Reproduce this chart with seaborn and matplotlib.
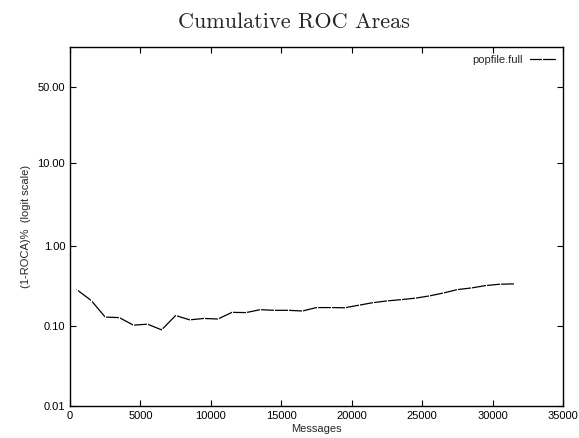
import numpy as np
import pandas as pd
import matplotlib
matplotlib.use("Agg")
import matplotlib.pyplot as plt
import seaborn as sns
from matplotlib.ticker import FuncFormatter, FixedLocator, NullLocator

# data (percent values)
messages = [500, 1500, 2500, 3500, 4500, 5500, 6500, 7500, 8500, 9500,
            10500, 11500, 12500, 13500, 14500, 15500, 16500, 17500, 18500, 19500,
            20500, 21500, 22500, 23500, 24500, 25500, 26500, 27500, 28500, 29500,
            30500, 31500]
roca_pct = [0.285, 0.21, 0.13, 0.128, 0.103, 0.106, 0.09, 0.136, 0.12, 0.125,
            0.123, 0.149, 0.148, 0.161, 0.158, 0.158, 0.155, 0.171, 0.171, 0.17,
            0.183, 0.197, 0.207, 0.215, 0.224, 0.239, 0.26, 0.287, 0.301, 0.322,
            0.335, 0.338]
series_name = "popfile.full"
ytick_pct = [0.01, 0.10, 1.00, 10.00, 50.00]
xticks = [0, 5000, 10000, 15000, 20000, 25000, 30000, 35000]

df = pd.DataFrame({"Messages": messages, "frac": np.array(roca_pct) / 100.0})

sns.set_style("ticks")
plt.rcParams["font.family"] = ["Liberation Sans", "DejaVu Sans"]

fig = plt.figure(figsize=(5.79, 4.38), dpi=100)
ax = fig.add_axes([0.1209, 0.0731, 0.8515, 0.8196])

sns.lineplot(data=df, x="Messages", y="frac", ax=ax, color="black", linewidth=0.9,
             marker="|", markersize=3, markeredgewidth=0.8, label=series_name)

ax.set_yscale("logit")
ax.set_ylim(1e-4, 0.76)
ax.set_xlim(0, 35000)
ax.yaxis.set_major_locator(FixedLocator([v / 100 for v in ytick_pct]))
ax.yaxis.set_minor_locator(NullLocator())
ax.yaxis.set_major_formatter(FuncFormatter(lambda v, _: f"{v * 100:.2f}"))
ax.set_xticks(xticks)
ax.xaxis.set_minor_locator(NullLocator())

ax.tick_params(direction="in", length=4, width=0.8, labelsize=8,
               top=True, right=True, colors="black")
for s in ax.spines.values():
    s.set_linewidth(1.0)
    s.set_color("black")

ax.set_xlabel("Messages", fontsize=8, labelpad=2)
ax.set_ylabel("(1-ROCA)%  (logit scale)", fontsize=8, labelpad=5)
fig.text(0.507, 1 - 22 / 438, "Cumulative ROC Areas", fontsize=16, family="cmr10",
         ha="center", va="center")

ax.legend(loc="upper right", frameon=False, markerfirst=False, fontsize=8,
          handlelength=2.3, borderaxespad=0.3, handletextpad=0.6)

fig.savefig("out.png", dpi=100)
